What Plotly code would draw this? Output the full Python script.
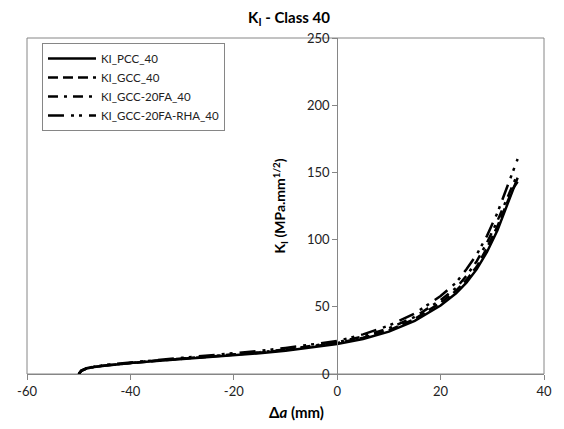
import plotly.graph_objects as go

# ---- data ----
x_mm = [-50, -49.5, -48.5, -47, -45, -42, -40, -35, -30, -25, -20, -15, -10, -5,
        0, 5, 10, 15, 20, 23, 25, 27, 29, 31, 32, 33, 34, 34.9]

ki_pcc = [0, 2.3, 4.0, 5.2, 6.2, 7.4, 8.1, 9.6, 11.0, 12.4, 13.8, 15.4, 17.3, 19.6,
          22.3, 26.0, 31.5, 39.5, 51, 60, 68, 78, 91, 107, 117, 127, 138, 146]
ki_gcc = [0, 2.4, 4.1, 5.3, 6.3, 7.5, 8.3, 9.8, 11.3, 12.8, 14.2, 15.9, 17.9, 20.2,
          23.0, 27.0, 32.5, 41, 53, 62, 70, 80, 94, 110, 119, 129, 138, 143]
ki_gcc_fa = [0, 2.5, 4.2, 5.4, 6.4, 7.6, 8.4, 10.0, 11.5, 13.0, 14.5, 16.2, 18.3, 20.8,
             23.5, 28.0, 34.0, 42.5, 55, 64, 73, 84, 98, 114, 123, 132, 141, 149]
ki_gcc_fa_rha = [0, 2.6, 4.4, 5.6, 6.7, 7.9, 8.7, 10.3, 12.0, 13.6, 15.3, 17.2, 19.4, 21.8,
                 24.5, 29.5, 36.0, 45, 58, 68, 78, 89, 103, 120, 130, 140, 151, 160]

series_names = ["KI_PCC_40", "KI_GCC_40", "KI_GCC-20FA_40", "KI_GCC-20FA-RHA_40"]
series_values = [ki_pcc, ki_gcc, ki_gcc_fa, ki_gcc_fa_rha]
series_dash = ["solid", "10px,5px", "10px,6px,3px,6px", "16px,7px,3px,5px,3px,7px"]

x_ticks = [-60, -40, -20, 0, 20, 40]
x_ticktext = ["-60", "-40", "-20", "0", "20", "40"]
y_ticks = [0, 50, 100, 150, 200, 250]

FONT = "Lato"
GRAY = "#868686"

fig = go.Figure()
for name, vals, dash in zip(series_names, series_values, series_dash):
    fig.add_trace(go.Scatter(
        x=x_mm, y=vals, mode="lines", name=name,
        line=dict(color="black", width=2.5, dash=dash),
    ))

fig.update_layout(
    width=564, height=429,
    margin=dict(l=27, r=17, t=38, b=55),
    paper_bgcolor="white", plot_bgcolor="white",
    font=dict(family=FONT, size=13, color="#222"),
    title=dict(text="<b>K<sub>I</sub> - Class 40</b>", x=289/564, xanchor="center",
               y=1 - 18/429, yanchor="middle", yref="container",
               font=dict(family=FONT, size=15, color="black")),
    showlegend=True,
    legend=dict(x=0.029, y=0.985, xanchor="left", yanchor="top",
                bordercolor=GRAY, borderwidth=1, bgcolor="white",
                font=dict(family=FONT, size=11.5, color="#222"),
                itemwidth=48, tracegroupgap=0),
    xaxis=dict(range=[-60, 40], tickvals=x_ticks, ticktext=x_ticktext,
               ticks="outside", ticklen=5,
               tickcolor=GRAY, showline=True, linecolor=GRAY, linewidth=1,
               showgrid=False, zeroline=False, domain=[0, 1],
               tickfont=dict(family=FONT, size=13, color="#222")),
    yaxis=dict(range=[0, 250], tickvals=y_ticks, ticks="outside", ticklen=5,
               tickcolor=GRAY, showline=True, linecolor=GRAY, linewidth=1,
               showgrid=False, zeroline=False, anchor="free", position=0.6,
               tickfont=dict(family=FONT, size=13, color="#222")),
    shapes=[dict(type="rect", xref="paper", yref="paper", x0=0, x1=1, y0=0, y1=1,
                 line=dict(color=GRAY, width=1), layer="below")],
    annotations=[
        dict(text="<b>K<sub>I</sub> (MPa.mm<sup>1/2</sup>)</b>", textangle=-90,
             xref="paper", yref="paper", x=(281 - 27) / 520, y=0.5,
             xanchor="center", yanchor="middle", showarrow=False,
             font=dict(family=FONT, size=14, color="black")),
        dict(text="<b>Δ<i>a</i> (mm)</b>",
             xref="paper", yref="paper", x=(298 - 27) / 520, y=-(412 - 374) / 336,
             xanchor="center", yanchor="middle", showarrow=False,
             font=dict(family=FONT, size=15, color="black")),
    ],
)

fig.write_html("out.html")
